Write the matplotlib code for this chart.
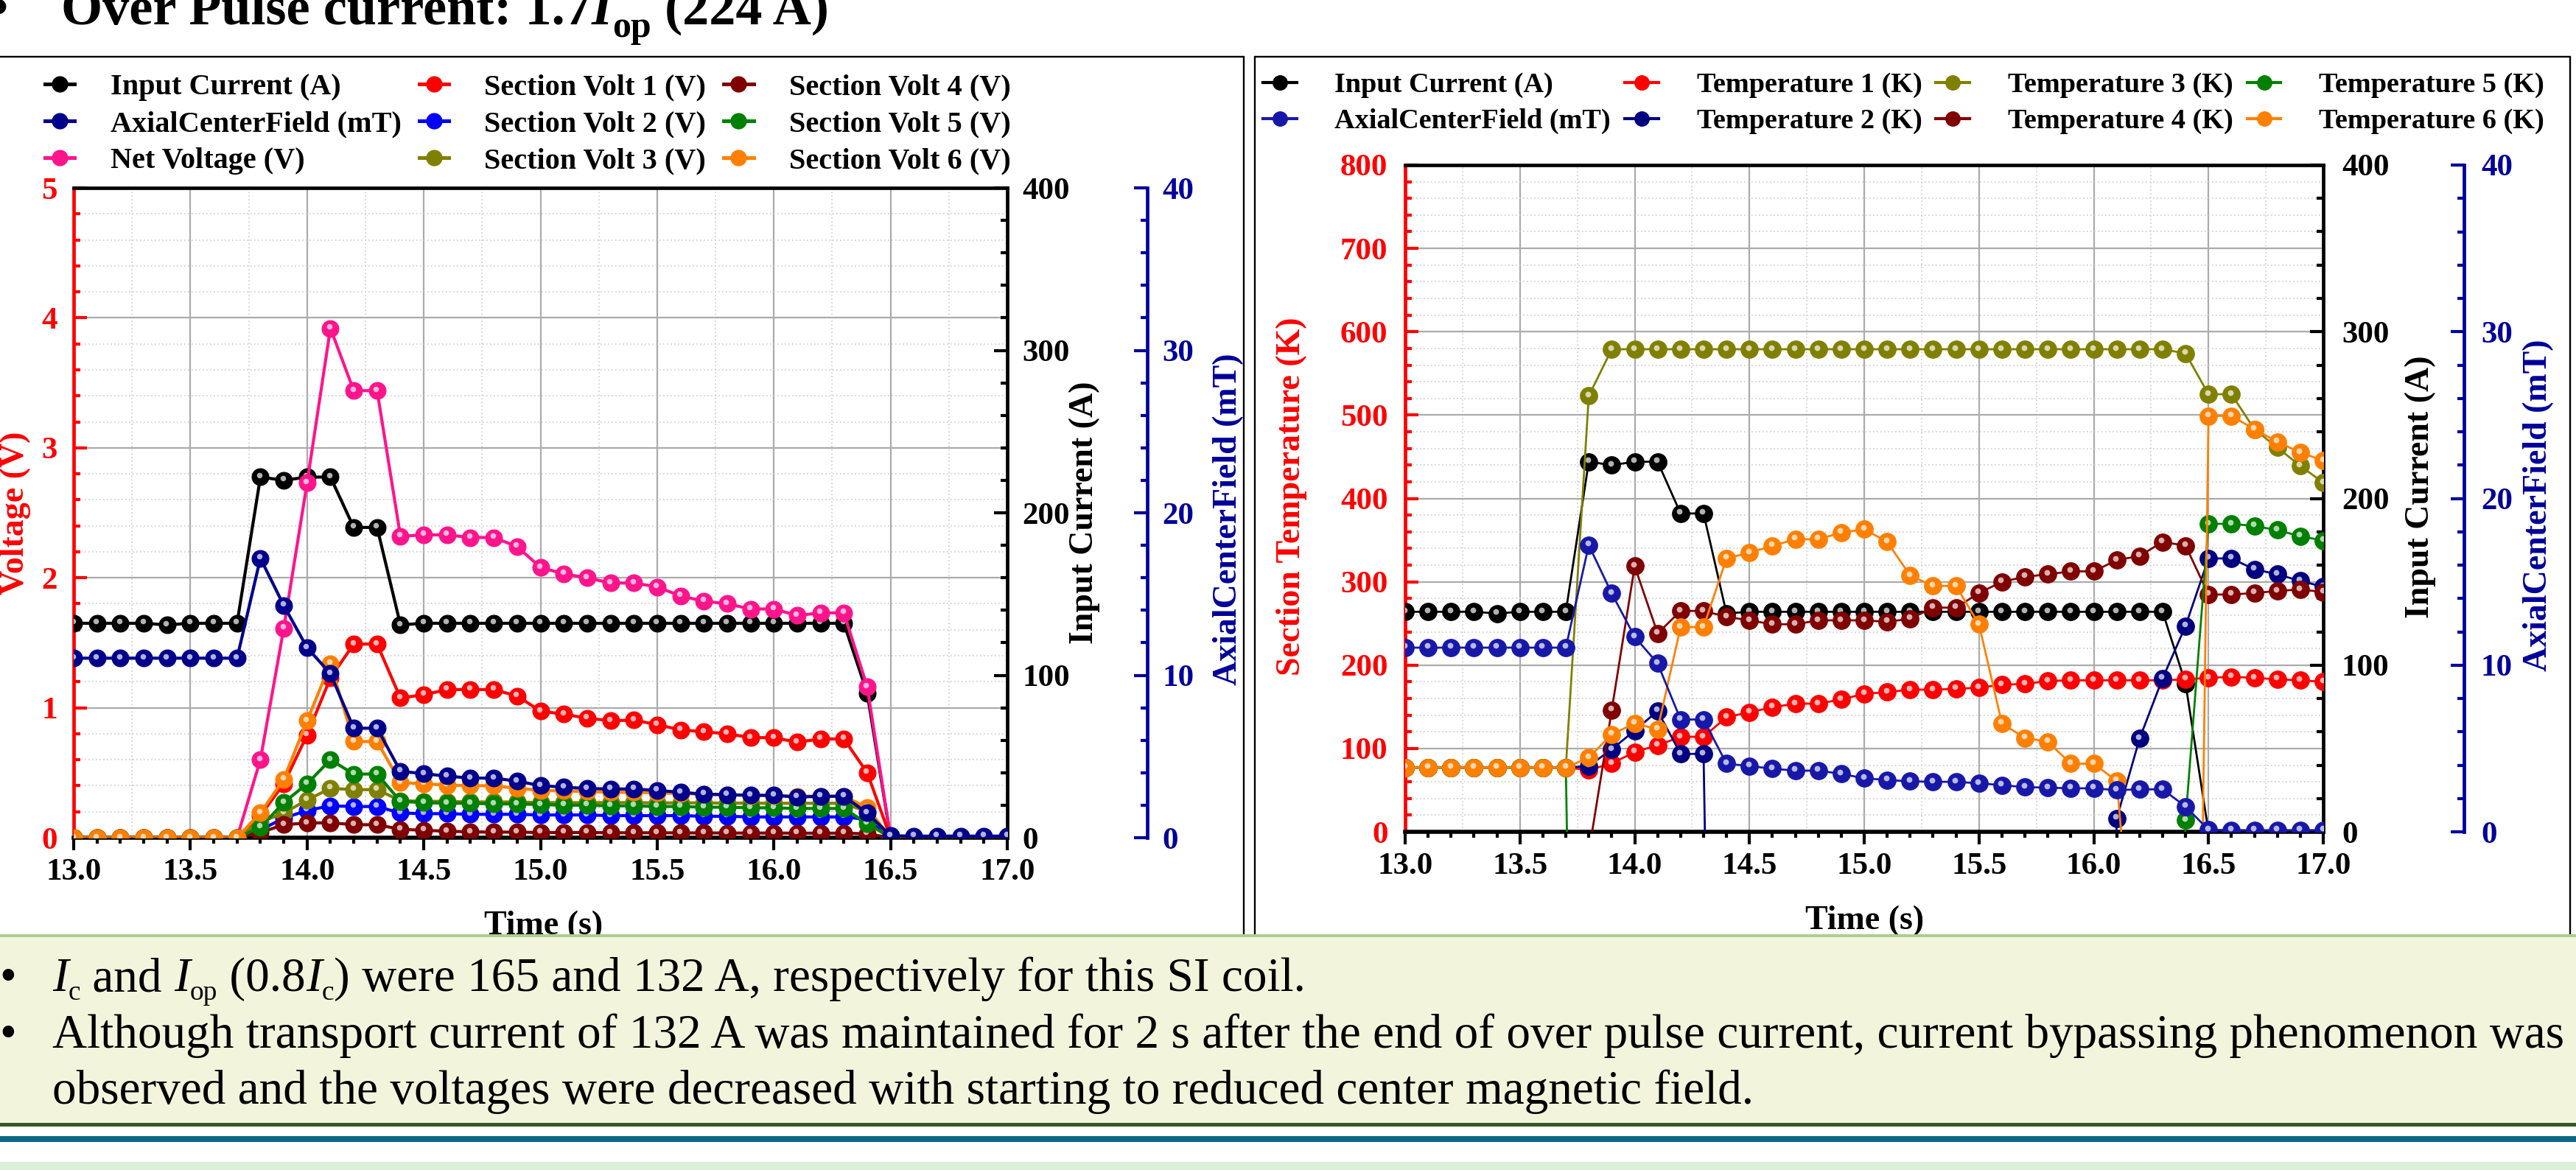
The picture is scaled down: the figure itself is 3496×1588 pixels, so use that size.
import numpy as np
import matplotlib
matplotlib.use("Agg")
import matplotlib.pyplot as plt
import matplotlib.transforms as mtrans
from matplotlib.lines import Line2D
from matplotlib.patches import Rectangle
from matplotlib.legend_handler import HandlerTuple
from matplotlib.ticker import MultipleLocator, FormatStrFormatter

plt.rcParams['font.family'] = ['Liberation Serif', 'DejaVu Serif']
plt.rcParams['font.weight'] = 'bold'
plt.rcParams['axes.labelweight'] = 'bold'

# ---------------- data ----------------
time_s = [13.0, 13.1, 13.2, 13.3, 13.4, 13.5, 13.6, 13.7, 13.8, 13.9,
          14.0, 14.1, 14.2, 14.3, 14.4, 14.5, 14.6, 14.7, 14.8, 14.9,
          15.0, 15.1, 15.2, 15.3, 15.4, 15.5, 15.6, 15.7, 15.8, 15.9,
          16.0, 16.1, 16.2, 16.3, 16.4, 16.5, 16.6, 16.7, 16.8, 16.9, 17.0]

input_current = [132, 132, 132, 132, 131, 132, 132, 132,
                 222, 220, 222, 222, 191, 191,
                 131, 132, 132, 132, 132, 132, 132, 132, 132, 132,
                 132, 132, 132, 132, 132, 132, 132, 132, 132, 132,
                 89, 0, 0, 0, 0, 0, 0]

axial_field = [11.05, 11.05, 11.05, 11.05, 11.05, 11.05, 11.05, 11.05,
               17.2, 14.3, 11.7, 10.1, 6.74, 6.74,
               4.09, 3.94, 3.79, 3.67, 3.67, 3.48, 3.21, 3.11, 3.03, 3.00,
               3.00, 2.91, 2.80, 2.68, 2.65, 2.61, 2.61, 2.50, 2.55, 2.55,
               1.52, 0.12, 0.10, 0.10, 0.10, 0.10, 0.10]

net_voltage = [0, 0, 0, 0, 0, 0, 0, 0,
               0.60, 1.61, 2.73, 3.92, 3.44, 3.44,
               2.32, 2.33, 2.33, 2.31, 2.31, 2.24, 2.08, 2.03, 2.00, 1.96,
               1.96, 1.93, 1.86, 1.82, 1.80, 1.76, 1.76, 1.71, 1.73, 1.73,
               1.16, 0, 0, 0, 0, 0, 0]

section_volt_1 = [0, 0, 0, 0, 0, 0, 0, 0,
                  0.17, 0.415, 0.79, 1.23, 1.49, 1.49,
                  1.075, 1.10, 1.14, 1.14, 1.14, 1.09, 0.975, 0.95, 0.92, 0.90,
                  0.905, 0.87, 0.83, 0.815, 0.80, 0.77, 0.77, 0.735, 0.76, 0.76,
                  0.50, 0, 0, 0, 0, 0, 0]

section_volt_2 = [0, 0, 0, 0, 0, 0, 0, 0,
                  0.06, 0.15, 0.21, 0.245, 0.24, 0.24,
                  0.19, 0.185, 0.185, 0.18, 0.18, 0.18, 0.175, 0.175, 0.175, 0.17,
                  0.17, 0.17, 0.17, 0.165, 0.165, 0.16, 0.16, 0.16, 0.16, 0.16,
                  0.14, 0, 0, 0, 0, 0, 0]

section_volt_3 = [0, 0, 0, 0, 0, 0, 0, 0,
                  0.12, 0.19, 0.29, 0.38, 0.37, 0.37,
                  0.285, 0.28, 0.28, 0.275, 0.275, 0.275, 0.27, 0.27, 0.27, 0.27,
                  0.27, 0.268, 0.268, 0.268, 0.266, 0.266, 0.265, 0.265, 0.265, 0.265,
                  0.20, 0, 0, 0, 0, 0, 0]

section_volt_4 = [0, 0, 0, 0, 0, 0, 0, 0,
                  0.04, 0.10, 0.113, 0.115, 0.10, 0.10,
                  0.065, 0.057, 0.05, 0.045, 0.043, 0.043, 0.04, 0.04, 0.04, 0.038,
                  0.038, 0.038, 0.037, 0.037, 0.036, 0.036, 0.036, 0.035, 0.035, 0.035,
                  0.03, 0, 0, 0, 0, 0, 0]

section_volt_5 = [0, 0, 0, 0, 0, 0, 0, 0,
                  0.08, 0.27, 0.415, 0.60, 0.49, 0.49,
                  0.28, 0.27, 0.265, 0.265, 0.26, 0.26, 0.255, 0.25, 0.25, 0.245,
                  0.245, 0.24, 0.24, 0.235, 0.235, 0.23, 0.23, 0.225, 0.225, 0.225,
                  0.11, 0, 0, 0, 0, 0, 0]

section_volt_6 = [0, 0, 0, 0, 0, 0, 0, 0,
                  0.19, 0.45, 0.90, 1.34, 0.74, 0.74,
                  0.425, 0.415, 0.405, 0.40, 0.40, 0.38, 0.365, 0.36, 0.355, 0.35,
                  0.35, 0.345, 0.34, 0.335, 0.33, 0.325, 0.325, 0.32, 0.32, 0.32,
                  0.23, 0, 0, 0, 0, 0, 0]

temperature_1 = [77, 77, 77, 77, 77, 77, 77, 77,
                 74.4, 81.8, 95.9, 103.8, 114, 114,
                 137.6, 143.5, 149.4, 153.8, 153.8, 158.8, 165.6, 167.6, 170.6, 170.6,
                 171.5, 173, 176.5, 177.4, 181, 181.8, 181.8, 181.8, 181.8, 181.8,
                 183, 184.7, 186, 184.7, 183, 181.8, 180]

temperature_2 = [77, 77, 77, 77, 77, 77, 77, 77,
                 79, 99, 121.5, 145, 93.5, 93.5,
                 -1500, -1500, -1500, -1500, -1500, -1500, -1500, -1500, -1500,
                 -1500, -1500, -1500, -1500, -1500, -1500, -1500, -1500,
                 16, 112, 184, 247, 328, 328, 315, 309, 301, 294]

temperature_3 = [77, 77, 77, 77, 77, 77, 77, 77,
                 523, 579, 579, 579, 579, 579, 579, 579, 579, 579, 579, 579,
                 579, 579, 579, 579, 579, 579, 579, 579, 579, 579, 579, 579, 579, 579,
                 574, 525, 525, 483, 461, 439, 419]

temperature_4 = [-400, -400, -400, -400, -400, -400, -400, -400,
                 -25, 146, 318.7, 238, 265, 265,
                 258, 253.7, 249, 249, 253.7, 253.7, 253.7, 252, 255.6, 269,
                 269, 286.5, 300, 306, 309, 312.5, 312.5, 326, 331, 347.8,
                 343.4, 284.7, 284.7, 286.5, 289, 290.8, 287.7]

temperature_5 = [77, 77, 77, 77, 77, 77, 77, 77,
                 -1500, -1500, -1500, -1500, -1500, -1500, -1500, -1500, -1500,
                 -1500, -1500, -1500, -1500, -1500, -1500, -1500, -1500, -1500,
                 -1500, -1500, -1500, -1500, -1500, -1500, -1500, -1500,
                 14, 369.5, 369.5, 367, 362, 354.6, 349.6]

temperature_6 = [77, 77, 77, 77, 77, 77, 77, 77,
                 89, 117, 130, 123, 245.7, 245.7,
                 328, 335, 343, 351, 351, 359, 363, 348, 307.5, 295,
                 295, 249, 130, 112.6, 108, 81.8, 81.8,
                 61, -250, -1500, -1500,
                 499, 499, 483, 468, 455, 445.5]

left_labels = ['Input Current (A)', 'AxialCenterField (mT)', 'Net Voltage (V)',
               'Section Volt 1 (V)', 'Section Volt 2 (V)', 'Section Volt 3 (V)',
               'Section Volt 4 (V)', 'Section Volt 5 (V)', 'Section Volt 6 (V)']
right_labels = ['Input Current (A)', 'AxialCenterField (mT)',
                'Temperature 1 (K)', 'Temperature 2 (K)', 'Temperature 3 (K)',
                'Temperature 4 (K)', 'Temperature 5 (K)', 'Temperature 6 (K)']

# ---------------- styles ----------------
RED = '#FF0000'
NAVY = '#000099'
C_CUR = '#000000'
C_FIELD_L = '#00008B'
C_FIELD_R = '#1818A8'
C_NET = '#FF148C'
C_S1, C_S2, C_S3 = '#FF0000', '#0000FF', '#808000'
C_S4, C_S5, C_S6 = '#800000', '#008000', '#FF8000'
C_T2 = '#000080'
TICK_FS = 31
LABEL_FS = 33

W, H, DPI = 3496, 1588, 100
fig = plt.figure(figsize=(W / DPI, H / DPI), dpi=DPI)
fig.patch.set_facecolor('white')
renderer = fig.canvas.get_renderer()


def fx(px):
    return px / W


def fy(py):
    return 1 - py / H


def build(x0, x1, top, bot, g_max, g_major, g_minor, field_frac, pads):
    ax = fig.add_axes([fx(x0), fy(bot), (x1 - x0) / W, (bot - top) / H])
    ax.set_xlim(13.0, 17.0)
    ax.set_ylim(0, g_max)
    axC = ax.twinx()
    axC.set_ylim(0, 400)
    axD = ax.twinx()
    axD.set_ylim(0, g_max)
    axD.set_axis_off()
    axF = ax.twinx()
    axF.set_ylim(0, 40)
    ax.set_zorder(1)
    axC.set_zorder(2)
    axD.set_zorder(3)
    axF.set_zorder(4)
    axF.spines['right'].set_position(('axes', field_frac))
    for a in (axC, axF):
        for s in ('left', 'top', 'bottom'):
            a.spines[s].set_visible(False)
    ax.spines['right'].set_visible(False)
    ax.spines['left'].set_color(RED)
    axC.spines['right'].set_color('black')
    axF.spines['right'].set_color(NAVY)
    for a in (ax, axC, axF):
        for sp in a.spines.values():
            sp.set_linewidth(3.4)
    ax.spines['bottom'].set_linewidth(4.0)

    ax.xaxis.set_major_locator(MultipleLocator(0.5))
    ax.xaxis.set_minor_locator(MultipleLocator(0.1))
    ax.xaxis.set_major_formatter(FormatStrFormatter('%.1f'))
    ax.yaxis.set_major_locator(MultipleLocator(g_major))
    ax.yaxis.set_minor_locator(MultipleLocator(g_minor))
    axC.yaxis.set_major_locator(MultipleLocator(100))
    axC.yaxis.set_minor_locator(MultipleLocator(20))
    axF.yaxis.set_major_locator(MultipleLocator(10))
    axF.yaxis.set_minor_locator(MultipleLocator(2))

    ax.tick_params(axis='x', which='both', direction='out', colors='black',
                   labelsize=TICK_FS, pad=8, width=3, top=False)
    ax.tick_params(axis='x', which='major', length=12)
    ax.tick_params(axis='x', which='minor', length=6)
    for a, c, p in ((ax, RED, pads[0]), (axC, 'black', pads[1]), (axF, NAVY, pads[2])):
        a.tick_params(axis='y', which='both', direction='in', colors=c,
                      labelsize=TICK_FS, pad=p, width=3)
        a.tick_params(axis='y', which='major', length=13)
        a.tick_params(axis='y', which='minor', length=6.5)

    ax.set_axisbelow(True)
    ax.grid(which='major', color='#ababab', lw=1.6, ls='-')
    ax.grid(which='minor', axis='y', color='#cdcdcd', lw=1.2, ls=(0, (1, 2)))
    for v in np.arange(13.25, 17.0, 0.5):
        ax.axvline(v, color='#cdcdcd', lw=1.2, ls=(0, (1, 2)), zorder=0.5)
    return ax, axC, axD, axF


def series(ax, y, color, lw, ms):
    ax.plot(time_s, y, color=color, lw=lw, marker='o', ms=ms, mfc=color,
            mec=color, mew=0.8, solid_joinstyle='round')
    off = mtrans.offset_copy(ax.transData, fig=fig, x=-1.5, y=2.5, units='dots')
    ax.plot(time_s, y, ls='none', marker='o', ms=ms * 0.33, mfc='white',
            mec='none', alpha=0.7, transform=off)


def handle(color, lw, ms):
    return (Line2D([], [], color=color, lw=lw, marker='o', ms=ms, mfc=color, mec=color),
            Line2D([], [], ls='none', marker='o', ms=ms * 0.33, mfc='white',
                   mec='none', alpha=0.7))


# ---------------- left chart ----------------
LX0, LX1, LTOP, LBOT = 100, 1367, 255, 1137
axG, axC, axD, axF = build(LX0, LX1, LTOP, LBOT, 5, 1, 0.2,
                           (1557 - LX0) / (LX1 - LX0), (16, 14.5, 14.5))
LW, MS = 3.0, 16.5
series(axC, input_current, C_CUR, LW, MS)
series(axF, axial_field, C_FIELD_L, LW, MS)
left_series = [net_voltage, section_volt_1, section_volt_2, section_volt_3,
               section_volt_4, section_volt_5, section_volt_6]
left_colors = [C_NET, C_S1, C_S2, C_S3, C_S4, C_S5, C_S6]
for yv, c in zip(left_series, left_colors):
    series(axD, yv, c, LW, MS)

axG.set_ylabel('Voltage (V)', fontsize=LABEL_FS, color=RED)
axG.yaxis.set_label_coords((42 - LX0) / (LX1 - LX0), 0.5)
axC.set_ylabel('Input Current (A)', fontsize=LABEL_FS, color='black')
axC.yaxis.set_label_coords((1451 - LX0) / (LX1 - LX0), 0.5)
axF.set_ylabel('AxialCenterField (mT)', fontsize=LABEL_FS, color=NAVY)
axF.yaxis.set_label_coords((1646 - LX0) / (LX1 - LX0), 0.49)
fig.text(fx(738), fy(1236), 'Time (s)', fontsize=LABEL_FS, ha='center', va='top', zorder=5)

lh = [handle(C_CUR, 3.6, 15), handle(C_FIELD_L, 3.6, 15)] + \
     [handle(c, 3.6, 15) for c in left_colors]
fig.legend(lh, left_labels, handler_map={tuple: HandlerTuple(ndivide=None, pad=0)},
           ncol=3, loc='upper left', bbox_to_anchor=(fx(61), fy(100)),
           frameon=False, fontsize=29, handlelength=2.0, handletextpad=0.2,
           columnspacing=0.6, labelspacing=0.32, borderpad=0, borderaxespad=0)

# ---------------- right chart ----------------
RX0, RX1, RTOP, RBOT = 1907, 3153, 224, 1129
bxG, bxC, bxD, bxF = build(RX0, RX1, RTOP, RBOT, 800, 100, 20,
                           (3344 - RX0) / (RX1 - RX0), (17, 18, 16.5))
RLW, RMS = 2.0, 17
series(bxC, input_current, C_CUR, RLW, RMS)
right_series = [temperature_1, temperature_2, temperature_3, temperature_4,
                temperature_5, temperature_6]
right_colors = [C_S1, C_T2, C_S3, C_S4, C_S5, C_S6]
for yv, c in zip(right_series, right_colors):
    series(bxD, yv, c, RLW, RMS)
series(bxF, axial_field, C_FIELD_R, RLW, RMS)

bxG.set_ylabel('Section Temperature (K)', fontsize=LABEL_FS, color=RED)
bxG.yaxis.set_label_coords((1774 - RX0) / (RX1 - RX0), 0.503)
bxC.set_ylabel('Input Current (A)', fontsize=LABEL_FS, color='black')
bxC.yaxis.set_label_coords((3264 - RX0) / (RX1 - RX0), 0.517)
bxF.set_ylabel('AxialCenterField (mT)', fontsize=LABEL_FS, color=NAVY)
bxF.yaxis.set_label_coords((3424 - RX0) / (RX1 - RX0), 0.49)
fig.text(fx(2531), fy(1229), 'Time (s)', fontsize=LABEL_FS, ha='center', va='top', zorder=5)

rh = [handle(C_CUR, 3.0, 14), handle(C_FIELD_R, 3.0, 14)] + \
     [handle(c, 3.0, 14) for c in right_colors]
fig.legend(rh, right_labels, handler_map={tuple: HandlerTuple(ndivide=None, pad=0)},
           ncol=4, loc='upper left', bbox_to_anchor=(fx(1714), fy(98)),
           frameon=False, fontsize=27.5, handlelength=2.4, handletextpad=0.15,
           columnspacing=0.5, labelspacing=0.36, borderpad=0, borderaxespad=0)

# ---------------- panel frames ----------------
fig.add_artist(Rectangle((fx(-10), fy(1275)), (1688 + 10) / W, (1275 - 77) / H,
                         transform=fig.transFigure, fill=False, edgecolor='black',
                         lw=1.7, zorder=6))
fig.add_artist(Rectangle((fx(1703), fy(1275)), (3488 - 1703) / W, (1275 - 77) / H,
                         transform=fig.transFigure, fill=False, edgecolor='black',
                         lw=1.7, zorder=6))

# ---------------- bottom text box ----------------
def band(y0, y1, color, z=10):
    fig.add_artist(Rectangle((fx(-10), fy(y1)), (W + 20) / W, (y1 - y0) / H,
                             transform=fig.transFigure, facecolor=color,
                             edgecolor='none', zorder=z))

band(1270, 1527, '#F2F5DC')
band(1268, 1272, '#A9CF8F', 11)
band(1524, 1529, '#375A24', 11)
band(1542, 1550, '#0B6786')
band(1577, 1590, '#DDEFD8')


def text_width(s, kw):
    t1 = fig.text(0, 0, '|' + s + '|', **kw)
    t2 = fig.text(0, 0, '||', **kw)
    w = t1.get_window_extent(renderer).width - t2.get_window_extent(renderer).width
    t1.remove()
    t2.remove()
    return w


def rich(x_px, base_px, segs, z=12):
    x = x_px
    for s, kw, dy in segs:
        fig.text(fx(x), fy(base_px + dy), s, ha='left', va='baseline', zorder=z, **kw)
        x += text_width(s, kw)


TB = dict(fontsize=52, fontweight='bold')
TBI = dict(fontsize=52, fontweight='bold', fontstyle='italic')
TBS = dict(fontsize=36, fontweight='bold')
fig.text(fx(10), fy(33), '\u2022', ha='right', va='baseline', zorder=12, **TB)
rich(83, 33, [('Over Pulse current: 1.7', TB, 0), ('I', TBI, 0),
              ('op', TBS, 17), (' (224 A)', TB, 0)])

TN = dict(fontsize=47, fontweight='normal')
TNI = dict(fontsize=47, fontweight='normal', fontstyle='italic')
TNS = dict(fontsize=27, fontweight='normal')
for base in (1345, 1422):
    fig.text(fx(-1), fy(base), '\u2022', ha='left', va='baseline', zorder=12, **TN)
rich(71, 1345, [('I', TNI, 0), ('c', TNS, 12), (' and ', TN, 0), ('I', TNI, 0),
                ('op', TNS, 12), (' (0.8', TN, 0), ('I', TNI, 0), ('c', TNS, 12),
                (') were 165 and 132 A, respectively for this SI coil.', TN, 0)])
rich(71, 1422, [('Although transport current of 132 A was maintained for 2 s after '
                 'the end of over pulse current, current bypassing phenomenon was', TN, 0)])
rich(71, 1498, [('observed and the voltages were decreased with starting to reduced '
                 'center magnetic field.', TN, 0)])

fig.savefig('out.png', dpi=DPI, facecolor='white')
